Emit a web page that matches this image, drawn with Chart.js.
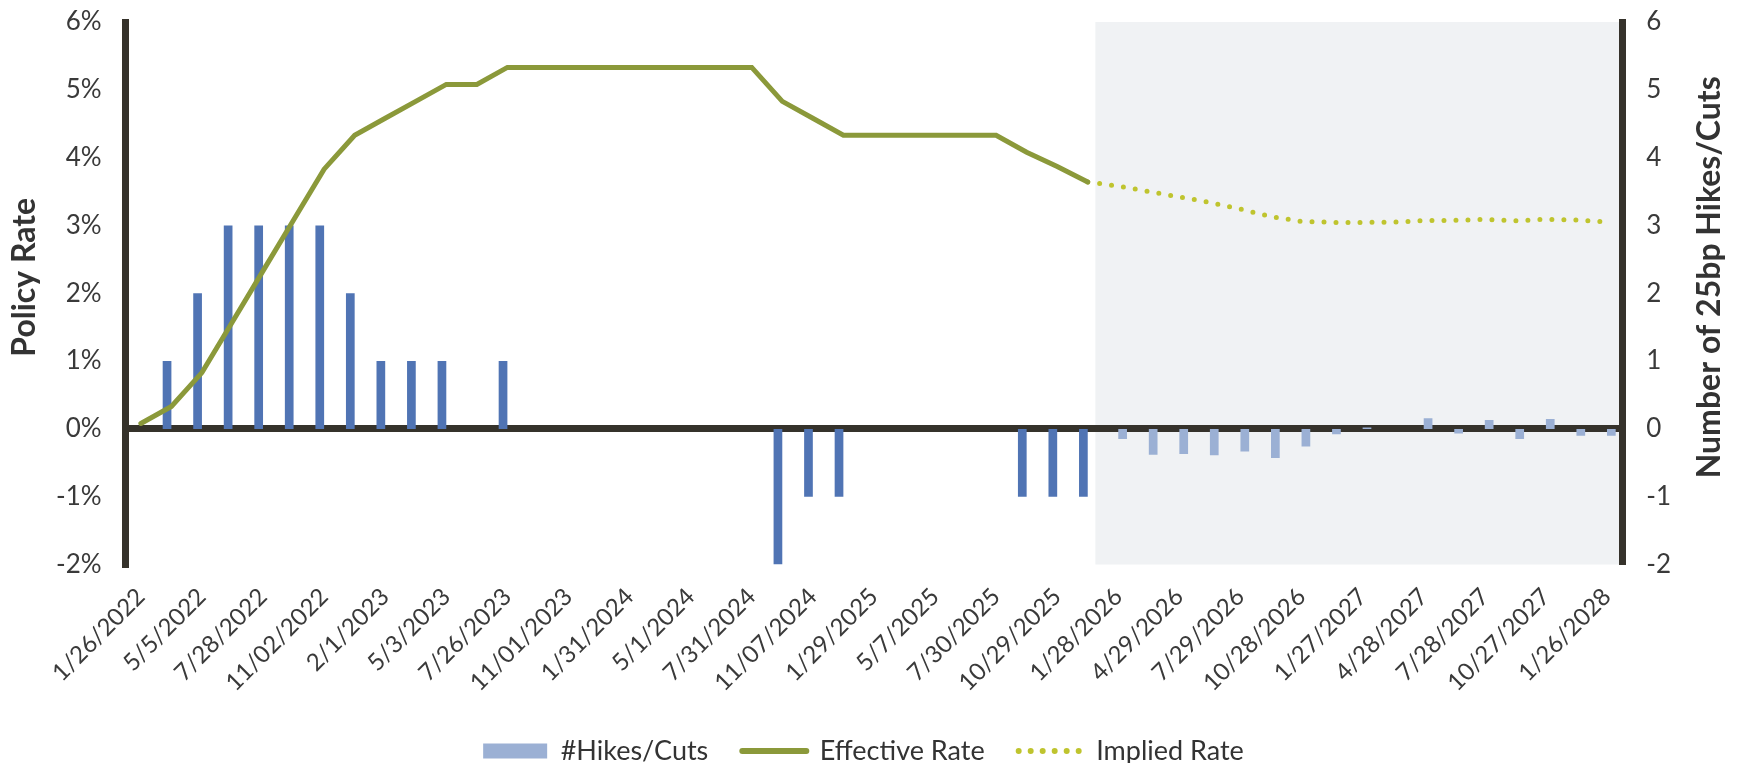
<!DOCTYPE html>
<html>
<head>
<meta charset="utf-8">
<script src="https://cdn.jsdelivr.net/npm/chart.js@4.4.1/dist/chart.umd.min.js"></script>
<style>
  html, body { margin: 0; padding: 0; background: #fff; }
  #wrap { width: 1738px; height: 763px; position: relative; }
</style>
</head>
<body>
<div id="wrap"><canvas id="chart"></canvas></div>
<script>
// FOMC meeting dates, one category per meeting (every other one is labelled)
const meetings = [
  '1/26/2022', '3/16/2022', '5/5/2022', '6/15/2022', '7/28/2022', '9/21/2022', '11/02/2022', '12/14/2022',
  '2/1/2023', '3/22/2023', '5/3/2023', '6/14/2023', '7/26/2023', '9/20/2023', '11/01/2023', '12/13/2023',
  '1/31/2024', '3/20/2024', '5/1/2024', '6/12/2024', '7/31/2024', '9/18/2024', '11/07/2024', '12/18/2024',
  '1/29/2025', '3/19/2025', '5/7/2025', '6/18/2025', '7/30/2025', '9/17/2025', '10/29/2025', '12/10/2025',
  '1/28/2026', '3/18/2026', '4/29/2026', '6/17/2026', '7/29/2026', '9/16/2026', '10/28/2026', '12/9/2026',
  '1/27/2027', '3/17/2027', '4/28/2027', '6/16/2027', '7/28/2027', '9/22/2027', '10/27/2027', '12/8/2027',
  '1/26/2028'
];

// number of 25bp moves, realised
const hikesCuts = [
  0, 1, 2, 3, 3, 3, 3, 2, 1, 1, 1, 0, 1, 0, 0, 0,
  0, 0, 0, 0, 0, -2, -1, -1, 0, 0, 0, 0, 0, -1, -1, -1,
  null, null, null, null, null, null, null, null, null, null, null, null, null, null, null, null, null
];

// number of 25bp moves, market implied
const impliedHikesCuts = [
  null, null, null, null, null, null, null, null, null, null, null, null, null, null, null, null,
  null, null, null, null, null, null, null, null, null, null, null, null, null, null, null, null,
  -0.15, -0.38, -0.37, -0.39, -0.335, -0.43, -0.26, -0.08, 0.02, 0, 0.155, -0.07, 0.13, -0.15, 0.146, -0.1, -0.1
];

const effectiveRate = [
  0.08, 0.33, 0.83, 1.58, 2.33, 3.08, 3.83, 4.33, 4.58, 4.83, 5.08, 5.08, 5.33, 5.33, 5.33, 5.33,
  5.33, 5.33, 5.33, 5.33, 5.33, 4.83, 4.58, 4.33, 4.33, 4.33, 4.33, 4.33, 4.33, 4.08, 3.87, 3.64,
  null, null, null, null, null, null, null, null, null, null, null, null, null, null, null, null, null
];

const impliedRate = [
  null, null, null, null, null, null, null, null, null, null, null, null, null, null, null, null,
  null, null, null, null, null, null, null, null, null, null, null, null, null, null, null, 3.64,
  3.58, 3.50, 3.42, 3.34, 3.24, 3.13, 3.06, 3.045, 3.045, 3.05, 3.07, 3.075, 3.09, 3.07, 3.09, 3.08, 3.05
];

const axisMin = -2, axisMax = 6;
const firstForecast = 32;

const INK = '#35322b';
const TEXT = '#3a3a3a';

Chart.defaults.font.family = 'Lato';

// grey band behind the forecast part
const forecastShade = {
  id: 'forecastShade',
  beforeDraw(chart) {
    const { ctx, chartArea, scales: { x } } = chart;
    const a = x.getPixelForValue(firstForecast - 1);
    const b = x.getPixelForValue(firstForecast);
    const left = a + (b - a) * 0.25;
    ctx.save();
    ctx.fillStyle = '#f0f2f4';
    ctx.fillRect(left, chartArea.top, chartArea.right - left, chartArea.bottom - chartArea.top);
    ctx.restore();
  }
};

// both axis titles read bottom-to-top
const axisTitles = {
  id: 'axisTitles',
  afterDraw(chart) {
    const { ctx, chartArea } = chart;
    const cy = (chartArea.top + chartArea.bottom) / 2 - 16;
    ctx.save();
    ctx.font = 'bold 32px Lato';
    ctx.fillStyle = '#333';
    ctx.textAlign = 'center';
    ctx.textBaseline = 'middle';
    [[chartArea.left - 101, 'Policy Rate'], [chartArea.right + 87, 'Number of 25bp Hikes/Cuts']].forEach(([cx, txt]) => {
      ctx.save();
      ctx.translate(cx, cy);
      ctx.rotate(-Math.PI / 2);
      ctx.fillText(txt, 0, 0);
      ctx.restore();
    });
    ctx.restore();
  }
};

// keep the plot box where the original has it
const valueAxisFit = s => { s.paddingTop = 22; s.paddingBottom = 0; };

const tickFont = { size: 26 };

new Chart(document.getElementById('chart'), {
  type: 'bar',
  data: {
    labels: meetings,
    datasets: [
      {
        label: 'Realised',
        data: hikesCuts,
        backgroundColor: '#5074b4',
        yAxisID: 'y1',
        categoryPercentage: 0.57,
        barPercentage: 1,
        pointStyle: 'rect',
        order: 2
      },
      {
        label: '#Hikes/Cuts',
        data: impliedHikesCuts,
        backgroundColor: '#9bb0d4',
        yAxisID: 'y1',
        categoryPercentage: 0.57,
        barPercentage: 1,
        pointStyle: 'rect',
        order: 2
      },
      {
        type: 'line',
        label: 'Effective Rate',
        data: effectiveRate,
        borderColor: '#8b993a',
        backgroundColor: '#8b993a',
        borderWidth: 5,
        borderCapStyle: 'round',
        pointRadius: 0,
        pointStyle: 'line',
        tension: 0,
        yAxisID: 'y',
        order: 0
      },
      {
        type: 'line',
        label: 'Implied Rate',
        data: impliedRate,
        borderColor: '#bfc42e',
        backgroundColor: '#bfc42e',
        borderWidth: 5,
        borderDash: [0, 12],
        borderCapStyle: 'round',
        pointRadius: 0,
        pointStyle: 'line',
        tension: 0,
        yAxisID: 'y',
        order: 0
      }
    ]
  },
  options: {
    responsive: true,
    maintainAspectRatio: false,
    animation: false,
    layout: { padding: { left: 32, right: 43, top: 0, bottom: -11.5 } },
    plugins: {
      tooltip: { enabled: false },
      legend: {
        position: 'bottom',
        labels: {
          generateLabels: chart => {
            const items = Chart.defaults.plugins.legend.labels.generateLabels(chart);
            items.forEach(it => {
              const ds = chart.data.datasets[it.datasetIndex];
              if (ds.type === 'line') {
                it.lineWidth = ds.borderWidth + 1;
                it.lineDash = ds.borderDash || [];
                it.lineCap = ds.borderCapStyle;
                it.strokeStyle = ds.borderColor;
              } else {
                it.lineWidth = 0;
              }
            });
            return items;
          },
          filter: item => item.datasetIndex !== 0,
          sort: (a, b) => a.datasetIndex - b.datasetIndex,
          usePointStyle: true,
          pointStyleWidth: 64,
          boxHeight: 15,
          padding: 34,
          color: '#333',
          font: { size: 27 }
        }
      }
    },
    scales: {
      x: {
        grid: { display: false, drawTicks: false },
        border: { display: false },
        afterFit: s => { s.paddingLeft = 0; s.paddingRight = 0; s.height = 139; },
        ticks: {
          autoSkip: false,
          maxRotation: 45,
          minRotation: 45,
          padding: 18,
          color: TEXT,
          font: { size: 24 },
          callback: (v, i) => (i % 2 === 0 ? meetings[i] : '')
        }
      },
      y: {
        position: 'left',
        min: axisMin,
        max: axisMax,
        z: 1,
        afterFit: valueAxisFit,
        border: { display: true, color: INK, width: 7 },
        grid: {
          drawTicks: false,
          lineWidth: 7,
          color: c => (c.tick && c.tick.value === 0 ? INK : 'rgba(0,0,0,0)')
        },
        ticks: {
          stepSize: 1,
          padding: 24,
          color: TEXT,
          font: tickFont,
          callback: v => v + '%'
        }
      },
      y1: {
        position: 'right',
        min: axisMin,
        max: axisMax,
        afterFit: valueAxisFit,
        border: { display: true, color: INK, width: 7 },
        grid: { display: false, drawTicks: false },
        ticks: {
          stepSize: 1,
          padding: 24,
          color: TEXT,
          font: tickFont
        }
      }
    }
  },
  plugins: [forecastShade, axisTitles]
});
</script>
</body>
</html>
